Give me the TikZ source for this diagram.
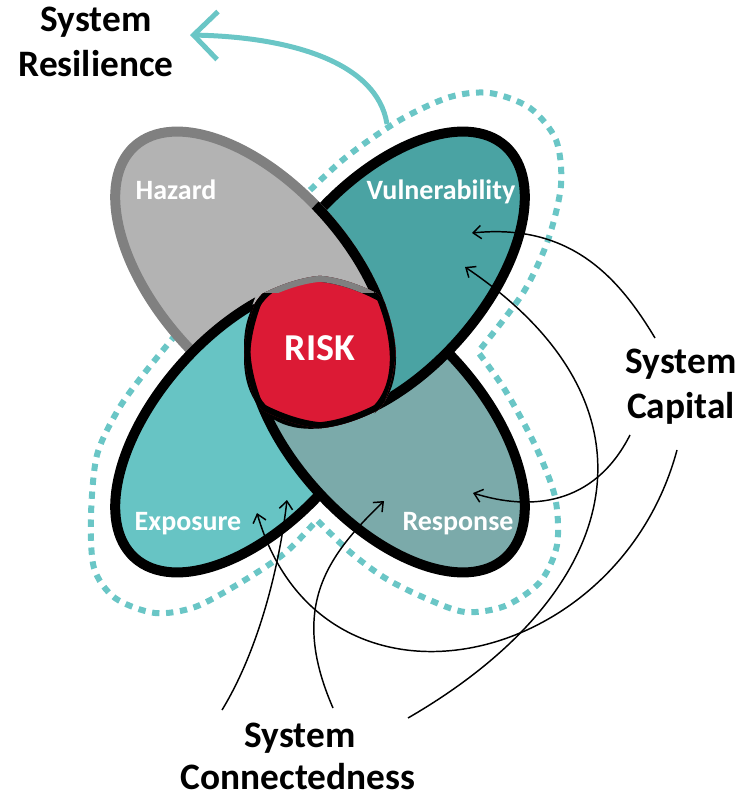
\documentclass[tikz,border=0pt]{standalone}
\usepackage{fontspec}
\setmainfont{Carlito}
\usetikzlibrary{arrows.meta}

\definecolor{hazfill}{HTML}{B3B3B3}
\definecolor{hazline}{HTML}{808080}
\definecolor{vulfill}{HTML}{4AA3A3}
\definecolor{expfill}{HTML}{67C4C4}
\definecolor{resfill}{HTML}{7BAAAA}
\definecolor{riskred}{HTML}{DC1A35}
\definecolor{resil}{HTML}{6AC6C6}

\tikzset{
    hazpos/.style={shift={(253.1,277.7)}, rotate=-48},
    vulpos/.style={shift={(386.9,277.7)}, rotate=48},
    exppos/.style={shift={(253.1,426.3)}, rotate=48},
    respos/.style={shift={(386.9,426.3)}, rotate=-48},
    rim/.style={line width=7.5pt},
    riskrim/.style={line width=9pt},
    petallabel/.style={text=white, font=\fontsize{21}{24}\selectfont\bfseries},
    caption/.style={anchor=base, inner sep=0pt, font=\fontsize{28}{33}\selectfont\bfseries},
    link/.style={line width=1.1pt, -{Straight Barb[length=6pt, width=10pt]}},
    boundary/.style={resil, line width=4.5pt, dash pattern=on 5.5pt off 5pt},
}
% petal outlines (centre line of the rim, outer edge of the rim, a bit wider)
\newcommand{\petal}{(0,0) ellipse [x radius=132.75pt, y radius=71.25pt]}
\newcommand{\petalout}{(0,0) ellipse [x radius=136.5pt, y radius=75pt]}
\newcommand{\petalwide}{(0,0) ellipse [x radius=138pt, y radius=76.5pt]}
\newcommand{\farbox}{(-1500,-1500) rectangle (1500,1500)}

\begin{document}
\begin{tikzpicture}[x=0.75pt, y=-0.75pt]
    \useasboundingbox (0,0) rectangle (747,798);

    % Dashed boundary round vulnerability, response and exposure
    \draw[boundary]
        plot[smooth] coordinates {(300,200) (345,158) (400,120) (450,97) (490,93) (530,108) (556,140) (561,185) (548,240) (523,293) (478,352)}
        -- plot[smooth] coordinates {(478,352) (505,390) (535,445) (555,497) (557,545) (540,582) (505,606) (465,612) (425,598) (385,578) (350,552) (317,520)}
        -- plot[smooth] coordinates {(317,520) (285,553) (240,583) (195,607) (155,613) (115,598) (94,568) (91,515) (97,455) (118,410) (143,375) (178,332)};

    % Petals
    \filldraw[hazpos, fill=hazfill, draw=hazline, rim] \petal;
    \filldraw[exppos, fill=expfill, draw=black, rim] \petal;
    \filldraw[respos, fill=resfill, draw=black, rim] \petal;
    \filldraw[vulpos, fill=vulfill, draw=black, rim] \petal;

    % Hazard folds back over vulnerability, but stays under exposure
    \begin{scope}[even odd rule]
        \clip[vulpos] \petalwide;
        \clip[exppos] \farbox \petal;
        \fill[hazpos, hazfill] \petalout;
        \draw[hazpos, rim] \petal;
    \end{scope}

    % Risk: where all four petals meet
    \begin{scope}
        \clip[hazpos] \petalout;
        \clip[vulpos] \petalout;
        \clip[exppos] \petalout;
        \clip[respos] \petalout;
        \fill[riskred] (200,250) rectangle (440,450);
        \draw[respos, riskrim] \petalout;
        \draw[vulpos, riskrim] \petalout;
        \begin{scope}
            \clip (262,255) rectangle (385,292);
            \draw[exppos, hazline, riskrim] \petalout;
            \draw[respos, hazline, riskrim] \petalout;
        \end{scope}
        \draw[hazpos, riskrim] \petalout;
    \end{scope}

    % Labels
    \node[petallabel, anchor=base] (hazard) at (176,200) {Hazard};
    \node[petallabel, anchor=base] (vuln) at (441,200) {Vulnerability};
    \node[petallabel, anchor=base] (expo) at (188,530) {Exposure};
    \node[petallabel, anchor=base] (resp) at (458,530) {Response};
    \node[anchor=base, text=white, font=\fontsize{28.5}{30}\selectfont\bfseries] (risk) at (320,360) {RISK};

    \node[caption] (resilA) at (96,32) {System};
    \node[caption] (resilB) at (96,77) {Resilience};
    \node[caption] (capA) at (681,373) {System};
    \node[caption] (capB) at (681,418) {Capital};
    \node[caption] (conA) at (300,747) {System};
    \node[caption] (conB) at (298,789) {Connectedness};

    % Arrow ends
    \coordinate (resilFrom) at (387,124);
    \coordinate (resilTo) at (190,35);
    \coordinate (capFromA) at (655,338);
    \coordinate (capFromB) at (630,435);
    \coordinate (capFromC) at (677,450);
    \coordinate (conFromA) at (222,710);
    \coordinate (conFromB) at (333,708);
    \coordinate (conFromC) at (408,718);
    \coordinate (vulTipA) at (472,233);
    \coordinate (vulTipB) at (465,267);
    \coordinate (resTipA) at (473,493);
    \coordinate (resTipB) at (384,501);
    \coordinate (expTipA) at (257,513);
    \coordinate (expTipB) at (287,500);

    % Resilience arrow
    \draw[resil, line width=3.75pt, -{Straight Barb[length=18pt, width=36pt]}]
        (resilFrom) .. controls (377,62) and (290,37) .. (resilTo);

    % Capital
    \draw[link] (capFromA) .. controls (619,278) and (571,223) .. (vulTipA);
    \draw[link] (capFromB) .. controls (594,506) and (530,511) .. (resTipA);
    \draw[link] (capFromC) .. controls (617,673) and (321,734) .. (expTipA);

    % Connectedness
    \draw[link] (conFromA) .. controls (258,651) and (279,569) .. (expTipB);
    \draw[link] (conFromB) .. controls (289,607) and (327,556) .. (resTipB);
    \draw[link] (conFromC) .. controls (624,593) and (672,407) .. (vulTipB);
\end{tikzpicture}
\end{document}
